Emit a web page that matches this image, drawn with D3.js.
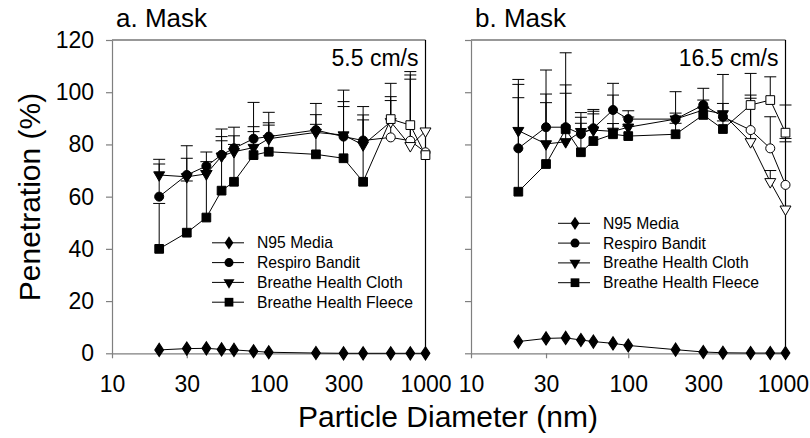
<!DOCTYPE html>
<html>
<head>
<meta charset="utf-8">
<script src="https://cdn.jsdelivr.net/npm/d3@7/dist/d3.min.js"></script>
<style>
  body { margin: 0; background: #fff; }
  svg { display: block; font-family: "Liberation Sans", Arial, sans-serif; }
  .axis text { font-size: 23px; fill: #000; }
  .axis path, .axis line { stroke: #7f7f7f; stroke-width: 1.2; }
</style>
</head>
<body>
<div class="chart"></div>
<script>
// particle diameters (nm)
var sizes = [20, 30, 40, 50, 60, 80, 100, 200, 300, 400, 600, 800, 1000];
var xTicks = [10, 30, 100, 300, 1000];
var yTicks = [0, 20, 40, 60, 80, 100, 120];
var seriesNames = ["N95 Media", "Respiro Bandit", "Breathe Health Cloth", "Breathe Health Fleece"];

// a. Mask, 5.5 cm/s
var n95A = [1.3, 1.8, 1.9, 1.5, 1.3, 0.8, 0.4, 0.1, 0, 0, 0, 0, 0];
var banditA = [60, 68.3, 71.7, 76, 78.5, 82.2, 83, 85.5, 83, 81.5, 82.7, 81.4, 77];
var clothA = [68.3, 67.6, 68.7, 75.5, 77.2, 78.8, 82.2, 84.6, 83.6, 79.8, 88.7, 79.5, 85.1];
var fleeceA = [40, 46.2, 52, 62.3, 65.7, 75.9, 77.2, 76.2, 74.7, 65.7, 89.7, 87.4, 75.9];
// upper end of error bars
var banditAUp = [72.5, 79.5, 77.1, 85.9, 86.6, 96.1, 92.3, 95.7, 100.8, 94.5, 98.3, 106.6, null];
var clothAUp = [74.3, 74.7, 73.4, 83, 83.3, 86.8, 88.3, 91.4, 96.4, 91.3, 96.8, 105, null];
var fleeceAUp = [57.4, 66, 70, 81.4, 80, 84.9, 87.4, 87.7, 94.5, 89.4, 103.4, 107.9, null];

// b. Mask, 16.5 cm/s
var n95B = [4.5, 5.7, 5.9, 5.1, 4.5, 3.8, 3.0, 1.4, 0.5, 0.2, 0.1, 0.1, 0.1];
var banditB = [78.5, 86.6, 86.6, 84, 86.2, 93.2, 89.7, 89.7, 95.1, 90.6, 85.5, 78.5, 64.5];
var clothB = [85.3, 80.2, 81, 84.9, 85.5, 85, 86.6, 89.7, 93.2, 91.7, 81, 65.7, 55.2];
var fleeceB = [61.9, 72.5, 85.8, 77, 81.3, 83.9, 83.2, 83.9, 91.3, 85.9, 95.1, 97, 84.5];
var banditBUp = [103, 108.5, 115.1, 90.4, 93.4, 103.4, 92.9, 100.2, 101.5, 106.8, 98.9, 90.6, 82.3];
var clothBUp = [104.9, 99.3, 99.6, 92.2, 92.7, 98.9, 90.5, 92, 97, 95.7, 97.7, 70, 81];
var fleeceBUp = [97.9, 96, 102.8, 88.1, 91.7, 88, 87, 88.1, 94, 89, 107.2, 105.9, 95.1];

var svgWidth = 810, svgHeight = 438;

var svg = d3.select(".chart")
  .append("svg")
  .attr("width", svgWidth)
  .attr("height", svgHeight);

var y = d3.scaleLinear().domain([0, 120]).range([353.3, 40]);

var symbols = [d3.symbolDiamond, d3.symbolCircle, d3.symbolTriangle, d3.symbolSquare];
var symSizes = [50, 64, 52, 76];

function drawPanel(opts) {
  var x = d3.scaleLog().domain([10, 1000]).range(opts.range);
  var g = svg.append("g");
  var x0 = opts.range[0], x1 = opts.range[1];

  // frame: top and right
  g.append("line").attr("x1", x0).attr("x2", x1).attr("y1", y(120)).attr("y2", y(120))
    .attr("stroke", "#333").attr("stroke-width", 1.2);
  g.append("line").attr("x1", x1).attr("x2", x1).attr("y1", y(120)).attr("y2", y(0))
    .attr("stroke", "#000").attr("stroke-width", 1.2);

  // axes
  var yAxis = d3.axisLeft(y).tickValues(yTicks).tickSize(6).tickSizeOuter(0).tickPadding(12);
  if (!opts.yLabels) yAxis.tickFormat("");
  g.append("g").attr("class", "axis")
    .attr("transform", "translate(" + x0 + ",0)")
    .call(yAxis);

  var xAxisG = g.append("g").attr("class", "axis")
    .attr("transform", "translate(0," + y(0) + ")")
    .call(d3.axisBottom(x).tickValues(xTicks).tickFormat(d3.format("d"))
      .tickSize(5).tickSizeOuter(0).tickPadding(17));

  // keep the last label inside the page on the right panel
  if (opts.pinLast) {
    xAxisG.selectAll(".tick text")
      .filter(function(d) { return d === 1000; })
      .attr("text-anchor", "end")
      .attr("dx", 23);
  }

  var series = opts.series;

  // error bars (upper only)
  series.forEach(function(s) {
    if (!s.up) return;
    var eb = g.append("g");
    sizes.forEach(function(d, i) {
      if (s.up[i] == null) return;
      eb.append("line").attr("x1", x(d)).attr("x2", x(d))
        .attr("y1", y(s.vals[i])).attr("y2", y(s.up[i]))
        .attr("stroke", "#000").attr("stroke-width", 1);
      eb.append("line").attr("x1", x(d) - 6).attr("x2", x(d) + 6)
        .attr("y1", y(s.up[i])).attr("y2", y(s.up[i]))
        .attr("stroke", "#000").attr("stroke-width", 1);
    });
  });

  var line = d3.line()
    .x(function(d) { return x(d[0]); })
    .y(function(d) { return y(d[1]); });

  series.forEach(function(s) {
    g.append("path")
      .datum(sizes.map(function(d, i) { return [d, s.vals[i]]; }))
      .attr("d", line)
      .attr("fill", "none")
      .attr("stroke", "#000")
      .attr("stroke-width", 1);
  });

  series.forEach(function(s, k) {
    g.selectAll(null)
      .data(sizes.map(function(d, i) { return [d, s.vals[i]]; }))
      .enter().append("path")
      .attr("d", d3.symbol().type(symbols[k]).size(symSizes[k]))
      .attr("transform", function(d) {
        var rot = k === 2 ? " rotate(180)" : "";
        var sx = k === 0 ? " scale(1.15,1)" : "";
        return "translate(" + x(d[0]) + "," + y(d[1]) + ")" + rot + sx;
      })
      .attr("fill", function(d) { return (k > 0 && d[0] > 400) ? "#fff" : "#000"; })
      .attr("stroke", "#000")
      .attr("stroke-width", 1);
  });

  // title and velocity label
  svg.append("text").attr("x", x0 + 4).attr("y", 27)
    .attr("font-size", 26).text(opts.title);
  svg.append("text").attr("x", x1 - 7).attr("y", 66)
    .attr("text-anchor", "end").attr("font-size", 23).text(opts.speed);

  // legend
  var lg = svg.append("g");
  opts.legendRows.forEach(function(k, r) {
    var ly = opts.legend.y + r * 19.8;
    lg.append("line").attr("x1", opts.legend.x).attr("x2", opts.legend.x + 32)
      .attr("y1", ly).attr("y2", ly).attr("stroke", "#000").attr("stroke-width", 1);
    lg.append("path")
      .attr("d", d3.symbol().type(symbols[k]).size(symSizes[k]))
      .attr("transform", "translate(" + (opts.legend.x + 17) + "," + ly + ")" +
        (k === 2 ? " rotate(180)" : "") + (k === 0 ? " scale(1.15,1)" : ""))
      .attr("fill", "#000");
    lg.append("text").attr("x", opts.legend.x + 45).attr("y", ly)
      .attr("dy", "0.35em").attr("font-size", 15.7).text(seriesNames[k]);
  });
}

drawPanel({
  range: [112, 425.5],
  yLabels: true,
  title: "a. Mask",
  speed: "5.5 cm/s",
  legend: { x: 212, y: 242.8 },
  legendRows: [0, 1, 2, 3],
  series: [
    { vals: n95A },
    { vals: banditA, up: banditAUp },
    { vals: clothA, up: clothAUp },
    { vals: fleeceA, up: fleeceAUp }
  ]
});

drawPanel({
  range: [471, 785.5],
  yLabels: false,
  pinLast: true,
  title: "b. Mask",
  speed: "16.5 cm/s",
  legend: { x: 558, y: 223.3 },
  legendRows: [0, 1, 2, 3],
  series: [
    { vals: n95B },
    { vals: banditB, up: banditBUp },
    { vals: clothB, up: clothBUp },
    { vals: fleeceB, up: fleeceBUp }
  ]
});

// axis titles
svg.append("text")
  .attr("transform", "translate(40,197) rotate(-90)")
  .attr("text-anchor", "middle")
  .attr("font-size", 30)
  .text("Penetration (%)");

svg.append("text")
  .attr("x", 448).attr("y", 427)
  .attr("text-anchor", "middle")
  .attr("font-size", 30)
  .text("Particle Diameter (nm)");
</script>
</body>
</html>
